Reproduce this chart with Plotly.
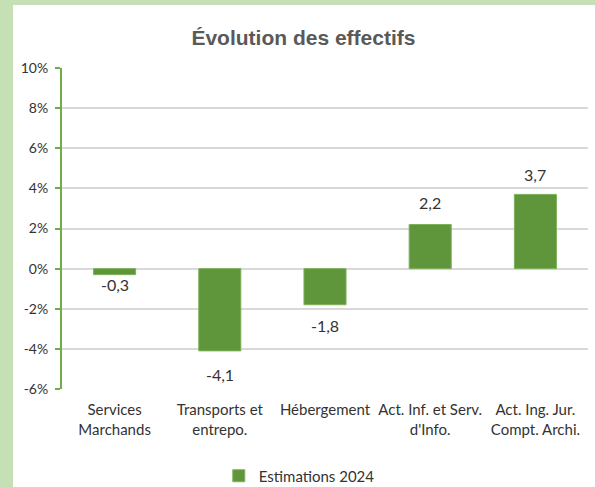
import plotly.graph_objects as go

categories = ["Services<br>Marchands", "Transports et<br>entrepo.", "Hébergement",
              "Act. Inf. et Serv.<br>d'Info.", "Act. Ing. Jur.<br>Compt. Archi."]
values = [-0.3, -4.1, -1.8, 2.2, 3.7]
series_name = "Estimations 2024"
y_ticks = [-6, -4, -2, 0, 2, 4, 6, 8, 10]

# label offsets in px (Excel puts them a bit oddly)
label_shift = [10, 24, 21, 22, 20]

green = "#5f953b"
axis_green = "#70ad47"
text_col = "#333333"
font = "Lato"

fig = go.Figure()
fig.add_trace(go.Bar(
    x=categories, y=values, name=series_name,
    marker=dict(color=green, line=dict(color="#7fb05a", width=1)),
    width=0.4,
))

for cat, v, s in zip(categories, values, label_shift):
    fig.add_annotation(
        x=cat, y=v, text=f"{v:.1f}".replace(".", ","), showarrow=False,
        yshift=s if v >= 0 else -s,
        font=dict(family=font, size=16, color=text_col),
    )

W, H = 595, 487
ml, mr, mt, mb = 62, 7, 68, 98
pw, ph = W - ml - mr, H - mt - mb

# light green frame on left and top
fig.add_shape(type="rect", xref="paper", yref="paper",
              x0=-ml / pw, x1=(13 - ml) / pw, y0=-mb / ph, y1=1 + mt / ph,
              fillcolor="#c5e0b4", line_width=0, layer="below")
fig.add_shape(type="rect", xref="paper", yref="paper",
              x0=-ml / pw, x1=1 + mr / pw, y0=1 + (mt - 5) / ph, y1=1 + mt / ph,
              fillcolor="#c5e0b4", line_width=0, layer="below")

fig.update_layout(
    width=W, height=H,
    margin=dict(l=ml, r=mr, t=mt, b=mb, autoexpand=False),
    paper_bgcolor="white", plot_bgcolor="white",
    title=dict(text="<b>Évolution des effectifs</b>", x=0.51, xanchor="center",
               y=1 - 38 / H, yanchor="middle",
               font=dict(family="Liberation Sans", size=21, color="#595959")),
    font=dict(family=font, size=13, color=text_col),
    showlegend=True,
    legend=dict(orientation="h", x=0.503, xanchor="center", xref="container",
                y=1 - 476 / H, yref="container", yanchor="middle",
                font=dict(family=font, size=15, color=text_col),
                itemwidth=30),
    bargap=0.6,
)
fig.update_yaxes(
    range=[-6, 10], tickvals=y_ticks, ticktext=[f"{t}%" for t in y_ticks],
    showgrid=True, gridcolor="#d9d9d9", gridwidth=1.5,
    zeroline=False,
    showline=True, linecolor=axis_green, linewidth=2,
    ticks="outside", ticklen=5, tickcolor=axis_green, tickwidth=2,
    ticklabelstandoff=4,
    tickfont=dict(family=font, size=14, color=text_col),
    automargin=False,
)
fig.update_xaxes(
    showline=False, showgrid=False, ticks="",
    tickangle=0, automargin=False,
    ticklabelstandoff=10,
    tickfont=dict(family=font, size=15, color=text_col),
)

fig.write_html("out.html", config={"displayModeBar": False},
               post_script="document.body.style.margin='0';")
